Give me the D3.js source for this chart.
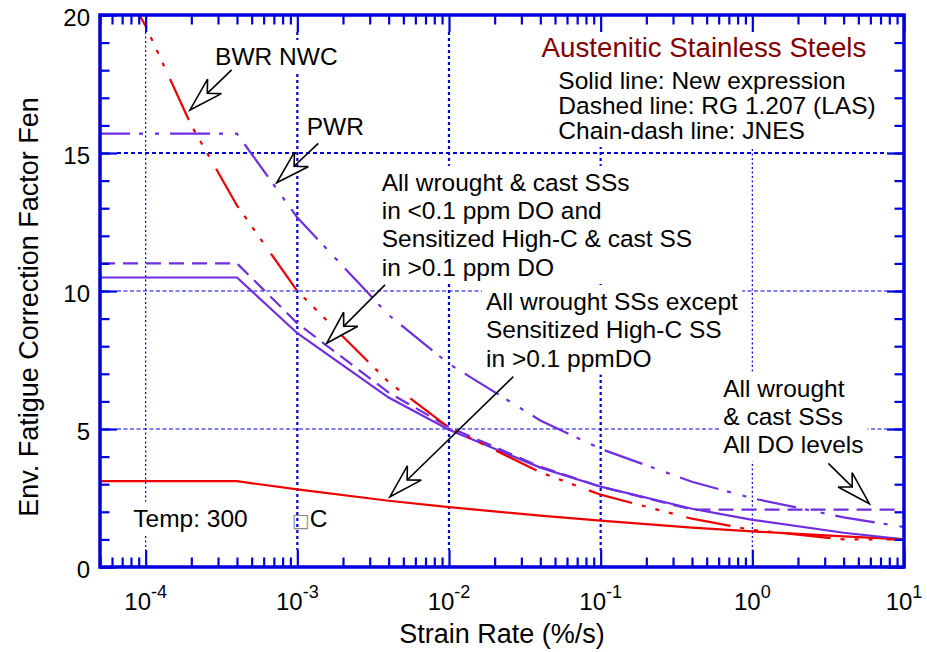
<!DOCTYPE html>
<html>
<head>
<meta charset="utf-8">
<script src="https://cdn.jsdelivr.net/npm/d3@7"></script>
<style>
  body { margin: 0; background: #fff; }
  text { font-family: "Liberation Sans", Arial, Helvetica, sans-serif; }
</style>
</head>
<body>
<svg id="chart" width="927" height="652"></svg>
<script>
// ---- Data -----------------------------------------------------------------
// Strain-rate points (%/s) used by the NUREG new expression, RG 1.207 and JNES PWR curves
const rateSteps = [5e-5, 4e-4, 1e-3, 4e-3, 1e-2, 4e-2, 0.1, 0.4, 1, 4, 10];
// New expression, wrought SSs except sensitized high-C in >0.1 ppm DO (red solid)
const fenNewHighDO = [3.11, 3.11, 2.81, 2.40, 2.17, 1.86, 1.68, 1.43, 1.29, 1.11, 1.00];
// New expression, all wrought & cast SSs in <0.1 ppm DO etc. (purple solid)
const fenNewLowDO = [10.49, 10.49, 8.47, 6.14, 4.97, 3.60, 2.91, 2.11, 1.71, 1.24, 1.00];
// RG 1.207, all DO levels (purple dashed)
const fenRG1207 = [11.0, 11.0, 8.83, 6.32, 5.07, 3.63, 2.91, 2.08, 2.08, 2.08, 2.08];
// JNES, PWR water (purple chain-dash)
const fenJnesPWR = [15.7, 15.7, 12.66, 9.13, 7.36, 5.31, 4.28, 3.09, 2.49, 1.80, 1.45];
// JNES, BWR normal water chemistry (red chain-dash)
const rateJnesBWR = [9.1e-5, 1e-4, 2e-4, 4e-4, 1e-3, 4e-3, 1e-2, 4e-2, 0.1, 0.4, 1, 4, 10];
const fenJnesBWR = [20.0, 19.6, 16.0, 13.1, 10.0, 6.70, 5.05, 3.43, 2.62, 1.75, 1.34, 1.00, 1.00];

// Axis ticks
const decadeRates = [1e-4, 1e-3, 1e-2, 1e-1, 1, 10];
const decadeExponents = ["-4", "-3", "-2", "-1", "0", "1"];
const fenTicks = [0, 5, 10, 15, 20];
const fenMinorTicks = d3.range(0, 21, 1);

// Text notes, anchored in data units [strain rate, Fen]
const titleText = ["Austenitic Stainless Steels"];
const titleAt = [0.0408, 18.49];
const legendText = ["Solid line: New expression", "Dashed line: RG 1.207 (LAS)", "Chain-dash line: JNES"];
const legendAt = [0.0526, 17.32];
const noteBWR = ["BWR NWC"];
const noteBWRAt = [2.87e-4, 18.19];
const notePWR = ["PWR"];
const notePWRAt = [1.153e-3, 15.65];
const noteLowDO = ["All wrought & cast SSs", "in <0.1 ppm DO and", "Sensitized High-C & cast SS", "in >0.1 ppm DO"];
const noteLowDOAt = [3.6e-3, 13.63];
const noteHighDO = ["All wrought SSs except", "Sensitized High-C SS", "in >0.1 ppmDO"];
const noteHighDOAt = [0.01754, 9.31];
const noteAllDO = ["All wrought", "& cast SSs", "All DO levels"];
const noteAllDOAt = [0.6435, 6.17];
const tempText = ["Temp: 300"];
const tempAt = [8.29e-5, 1.46];
const unitAt = [9.2e-4, 1.46];

// Arrows: [from, tip] in data units
const arrowBWR = [[3.69e-4, 18.01], [1.96e-4, 16.56]];
const arrowPWR = [[1.375e-3, 15.35], [7.31e-4, 13.92]];
const arrowLowDO = [[3.785e-3, 10.22], [1.562e-3, 8.105]];
const arrowHighDO = [[0.02655, 6.895], [4.08e-3, 2.547]];
const arrowAllDO = [[3.17, 3.757], [5.905, 2.293]];

// ---- Layout ---------------------------------------------------------------
const W = 927, H = 652;
const plot = { left: 100, right: 904, top: 15, bottom: 567 };
const BLUE = "#0000dc";
const RED = "#ee0000";
const PURPLE = "#6f2ee0";
const MAJOR = 17, MINOR = 9.5;

const x = d3.scaleLog().domain([5e-5, 10]).range([plot.left, plot.right]);
const y = d3.scaleLinear().domain([0, 20]).range([plot.bottom, plot.top]);

const svg = d3.select("#chart");
svg.append("rect").attr("width", W).attr("height", H).attr("fill", "#fff");
svg.append("defs").append("clipPath").attr("id", "plotClip")
  .append("rect")
  .attr("x", plot.left).attr("y", plot.top)
  .attr("width", plot.right - plot.left).attr("height", plot.bottom - plot.top);

const gridG = svg.append("g");
const boxG = svg.append("g");
const curveG = svg.append("g").attr("clip-path", "url(#plotClip)");
const textG = svg.append("g");
const arrowG = svg.append("g");
const axisG = svg.append("g");

// ---- Grid -----------------------------------------------------------------
const heavyRates = [1e-3, 1e-2, 1e-1];
gridG.selectAll("line.gv")
  .data(decadeRates.filter(d => d < 10))
  .join("line")
  .attr("x1", d => x(d)).attr("x2", d => x(d))
  .attr("y1", plot.top + MAJOR).attr("y2", plot.bottom - MAJOR)
  .attr("stroke", BLUE)
  .attr("stroke-width", d => heavyRates.includes(d) ? 2.2 : 1.2)
  .attr("stroke-dasharray", d => heavyRates.includes(d) ? "3 3" : "2 2.5");

gridG.selectAll("line.gh")
  .data(fenTicks.filter(d => d > 0 && d < 20))
  .join("line")
  .attr("x1", plot.left + MAJOR).attr("x2", plot.right - MAJOR)
  .attr("y1", d => y(d)).attr("y2", d => y(d))
  .attr("stroke", BLUE)
  .attr("stroke-width", d => d === 15 ? 2.2 : 1.2)
  .attr("stroke-dasharray", d => d === 15 ? "4 3" : "4 2.5");

// ---- Curves ---------------------------------------------------------------
const line = d3.line().x(d => x(d[0])).y(d => y(d[1]));
const series = [
  { rates: rateSteps, fens: fenNewHighDO, color: RED, dash: null, offset: 0 },
  { rates: rateSteps, fens: fenNewLowDO, color: PURPLE, dash: null, offset: 0 },
  { rates: rateSteps, fens: fenRG1207, color: PURPLE, dash: "15 8", offset: 0 },
  { rates: rateSteps, fens: fenJnesPWR, color: PURPLE, dash: "40 9 4 12 4 11", offset: 10 },
  { rates: rateJnesBWR, fens: fenJnesBWR, color: RED, dash: "45 10 4 10 4 10 4 14", offset: 30 }
];
curveG.selectAll("path.curve")
  .data(series)
  .join("path")
  .attr("class", "curve")
  .attr("d", s => line(s.rates.map((r, i) => [r, s.fens[i]])))
  .attr("fill", "none")
  .attr("stroke", s => s.color)
  .attr("stroke-width", 2.2)
  .attr("stroke-dasharray", s => s.dash)
  .attr("stroke-dashoffset", s => s.offset);

// ---- Text notes with white backing ----------------------------------------
function note(lines, at, opts) {
  const o = Object.assign({ size: 24.5, color: "#000", gap: 28.3, pad: 4 }, opts || {});
  const t = textG.append("text")
    .attr("x", x(at[0])).attr("y", y(at[1]))
    .attr("font-size", o.size).attr("fill", o.color);
  lines.forEach((s, i) => {
    t.append("tspan").attr("x", x(at[0])).attr("dy", i === 0 ? 0 : o.gap).text(s);
  });
  const b = t.node().getBBox();
  boxG.append("rect")
    .attr("x", b.x - o.pad).attr("y", b.y - o.pad + 1)
    .attr("width", b.width + 2 * o.pad).attr("height", b.height + 2 * o.pad - 2)
    .attr("fill", "#fff");
  return t;
}

note(titleText, titleAt, { size: 27.7, color: "#800000" });
note(legendText, legendAt, { gap: 25 });
note(noteBWR, noteBWRAt);
note(notePWR, notePWRAt);
note(noteLowDO, noteLowDOAt);
note(noteHighDO, noteHighDOAt);
note(noteAllDO, noteAllDOAt);
note(tempText, tempAt);

const unit = textG.append("text")
  .attr("x", x(unitAt[0])).attr("y", y(unitAt[1]))
  .attr("font-size", 24.5);
unit.append("tspan").attr("font-family", "DejaVu Sans").attr("font-size", 19)
  .attr("fill", "#8a8a8a").text("\u25A1");
unit.append("tspan").attr("fill", "#000").text("C");

// ---- Arrows ---------------------------------------------------------------
function arrow(a) {
  const sx = x(a[0][0]), sy = y(a[0][1]);
  const tx = x(a[1][0]), ty = y(a[1][1]);
  const len = Math.hypot(sx - tx, sy - ty);
  const ux = (sx - tx) / len, uy = (sy - ty) / len;
  const nx = -uy, ny = ux;
  const L = 34, Wd = 10, N = 24;
  arrowG.append("line")
    .attr("x1", sx).attr("y1", sy)
    .attr("x2", tx + N * ux).attr("y2", ty + N * uy)
    .attr("stroke", "#000").attr("stroke-width", 1.6);
  const pts = [
    [tx, ty],
    [tx + L * ux + Wd * nx, ty + L * uy + Wd * ny],
    [tx + N * ux, ty + N * uy],
    [tx + L * ux - Wd * nx, ty + L * uy - Wd * ny]
  ];
  arrowG.append("path")
    .attr("d", "M" + pts.map(p => p.join(",")).join("L") + "Z")
    .attr("fill", "#fff").attr("stroke", "#000").attr("stroke-width", 1.6)
    .attr("stroke-linejoin", "miter");
}
[arrowBWR, arrowPWR, arrowLowDO, arrowHighDO, arrowAllDO].forEach(arrow);

// ---- Axes -----------------------------------------------------------------
const minorRates = [];
[-5, -4, -3, -2, -1, 0].forEach(e => {
  for (let k = 2; k <= 9; k++) {
    const v = k * Math.pow(10, e);
    if (v > 5e-5 * 0.999 && v < 10) minorRates.push(v);
  }
});

function styleAxis(g) {
  g.select(".domain").remove();
  g.selectAll(".tick line").attr("stroke", BLUE).attr("stroke-width", 2.2);
  g.selectAll(".tick text").remove();
}

axisG.append("g").attr("transform", `translate(0,${plot.bottom})`)
  .call(d3.axisBottom(x).tickValues(decadeRates).tickSize(-MAJOR).tickSizeOuter(0)).call(styleAxis);
axisG.append("g").attr("transform", `translate(0,${plot.bottom})`)
  .call(d3.axisBottom(x).tickValues(minorRates).tickSize(-MINOR).tickSizeOuter(0)).call(styleAxis);
axisG.append("g").attr("transform", `translate(0,${plot.top})`)
  .call(d3.axisTop(x).tickValues(decadeRates).tickSize(-MAJOR).tickSizeOuter(0)).call(styleAxis);
axisG.append("g").attr("transform", `translate(0,${plot.top})`)
  .call(d3.axisTop(x).tickValues(minorRates).tickSize(-MINOR).tickSizeOuter(0)).call(styleAxis);
axisG.append("g").attr("transform", `translate(${plot.left},0)`)
  .call(d3.axisLeft(y).tickValues(fenTicks).tickSize(-MAJOR).tickSizeOuter(0)).call(styleAxis);
axisG.append("g").attr("transform", `translate(${plot.left},0)`)
  .call(d3.axisLeft(y).tickValues(fenMinorTicks).tickSize(-MINOR).tickSizeOuter(0)).call(styleAxis);
axisG.append("g").attr("transform", `translate(${plot.right},0)`)
  .call(d3.axisRight(y).tickValues(fenTicks).tickSize(-MAJOR).tickSizeOuter(0)).call(styleAxis);
axisG.append("g").attr("transform", `translate(${plot.right},0)`)
  .call(d3.axisRight(y).tickValues(fenMinorTicks).tickSize(-MINOR).tickSizeOuter(0)).call(styleAxis);

axisG.append("rect")
  .attr("x", plot.left).attr("y", plot.top)
  .attr("width", plot.right - plot.left).attr("height", plot.bottom - plot.top)
  .attr("fill", "none").attr("stroke", BLUE).attr("stroke-width", 3.5);

// Tick labels
const xLabels = axisG.selectAll("text.xl")
  .data(decadeRates)
  .join("text")
  .attr("class", "xl")
  .attr("x", d => x(d)).attr("y", plot.bottom + 43)
  .attr("text-anchor", "middle")
  .attr("font-size", 24)
  .attr("fill", "#000");
xLabels.append("tspan").text("10");
xLabels.append("tspan").attr("dy", -12).attr("font-size", 18)
  .text((d, i) => decadeExponents[i]);

axisG.selectAll("text.yl")
  .data(fenTicks)
  .join("text")
  .attr("class", "yl")
  .attr("x", plot.left - 10).attr("y", d => y(d) + 2)
  .attr("dy", "0.36em")
  .attr("text-anchor", "end")
  .attr("font-size", 24)
  .attr("fill", "#000")
  .text(d => d);

// Axis titles
axisG.append("text")
  .attr("x", (plot.left + plot.right) / 2).attr("y", 643)
  .attr("text-anchor", "middle").attr("font-size", 27)
  .text("Strain Rate (%/s)");
axisG.append("text")
  .attr("transform", "translate(38,307) rotate(-90)")
  .attr("text-anchor", "middle").attr("font-size", 27)
  .text("Env. Fatigue Correction Factor Fen");
</script>
</body>
</html>
